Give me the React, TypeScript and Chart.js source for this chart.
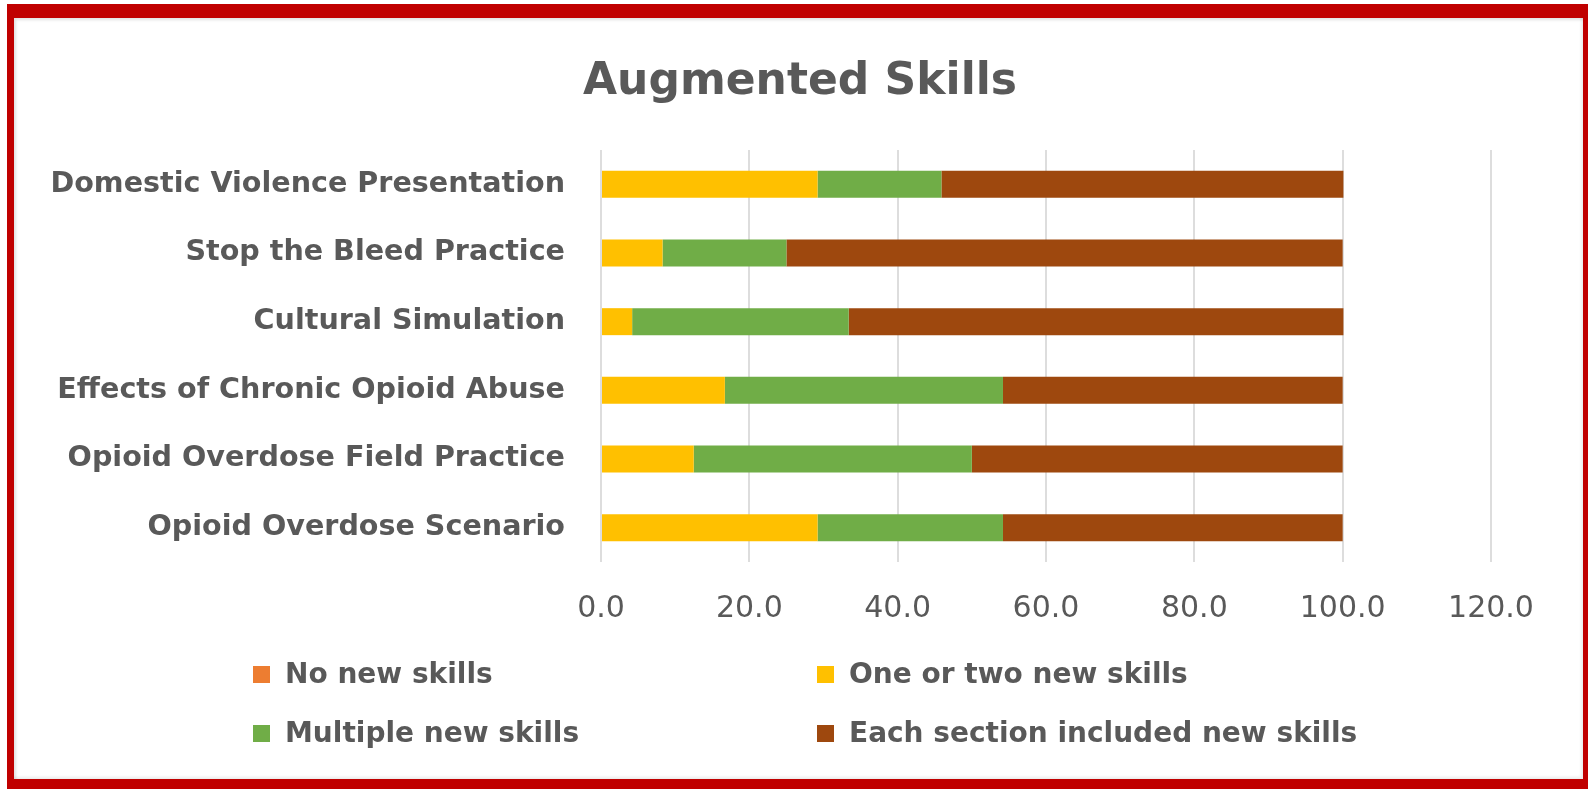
import React, { useEffect, useRef } from "react";
import { Chart, registerables } from "chart.js";

Chart.register(...registerables);

const TITLE = "Augmented Skills";

const categories = [
  "Domestic Violence Presentation",
  "Stop the Bleed Practice",
  "Cultural Simulation",
  "Effects of Chronic Opioid Abuse",
  "Opioid Overdose Field Practice",
  "Opioid Overdose Scenario",
];

const seriesNames = [
  "No new skills",
  "One or two new skills",
  "Multiple new skills",
  "Each section included new skills",
];

const noNewSkills = [0, 0, 0, 0, 0, 0];
const oneOrTwoNewSkills = [29.2, 8.3, 4.2, 16.7, 12.5, 29.2];
const multipleNewSkills = [16.7, 16.7, 29.2, 37.5, 37.5, 25.0];
const eachSectionNewSkills = [54.2, 75.0, 66.7, 45.8, 50.0, 45.8];

const xTickLabels = ["0.0", "20.0", "40.0", "60.0", "80.0", "100.0", "120.0"];

const seriesColors = ["#ED7D31", "#FFC000", "#70AD47", "#9E480E"];

const seriesValues = [noNewSkills, oneOrTwoNewSkills, multipleNewSkills, eachSectionNewSkills];

const FONT = '"DejaVu Sans", sans-serif';
const TEXT = "#595959";

export default function App() {
  const ref = useRef<HTMLCanvasElement>(null);

  useEffect(() => {
    if (!ref.current) return;
    const chart = new Chart(ref.current, {
      type: "bar",
      data: {
        labels: categories,
        datasets: seriesNames.map((name, i) => ({
          label: name,
          data: seriesValues[i],
          backgroundColor: seriesColors[i],
          borderWidth: 0,
          categoryPercentage: 1,
          barPercentage: 0.393,
        })),
      },
      options: {
        indexAxis: "y",
        responsive: false,
        animation: false,
        layout: { padding: { left: 0, right: 98, top: 150, bottom: 0 } },
        plugins: {
          legend: { display: false },
          title: { display: false },
          tooltip: { enabled: false },
        },
        scales: {
          x: {
            stacked: true,
            min: 0,
            max: 120,
            ticks: {
              stepSize: 20,
              padding: 29,
              color: TEXT,
              font: { family: FONT, size: 30 },
              maxRotation: 0,
              callback: (_v: any, i: number) => xTickLabels[i],
            },
            grid: { color: "#DDDDDD", lineWidth: 2, drawTicks: false },
            border: { display: false },
            afterFit: (s: any) => {
              s.height = 227;
            },
          },
          y: {
            stacked: true,
            ticks: {
              padding: 36,
              color: TEXT,
              font: { family: FONT, size: 28.6, weight: "bold" },
            },
            grid: { display: false, drawTicks: false },
            border: { display: false },
            afterFit: (s: any) => {
              s.width = 601;
            },
          },
        },
      } as any,
    });
    return () => chart.destroy();
  }, []);

  const legendCols = [253, 817];
  const legendRows = [674, 733];

  return (
    <div
      style={{
        position: "fixed",
        left: 0,
        top: 0,
        width: 1589,
        height: 789,
        overflow: "hidden",
        background: "#ffffff",
        fontFamily: FONT,
      }}
    >
      <canvas
        ref={ref}
        width={1589}
        height={789}
        style={{ position: "absolute", left: 0, top: 0, width: 1589, height: 789 }}
      />
      <div
        style={{
          position: "absolute",
          left: 0,
          top: 57,
          width: 1600,
          textAlign: "center",
          fontSize: 44,
          lineHeight: "44px",
          fontWeight: "bold",
          color: TEXT,
          whiteSpace: "nowrap",
        }}
      >
        {TITLE}
      </div>
      {seriesNames.map((name, i) => {
        const col = i % 2;
        const row = Math.floor(i / 2);
        return (
          <div
            key={name}
            style={{
              position: "absolute",
              left: legendCols[col],
              top: legendRows[row] - 14,
              height: 28,
              display: "flex",
              alignItems: "center",
              whiteSpace: "nowrap",
            }}
          >
            <div style={{ width: 17, height: 17, background: seriesColors[i], marginRight: 15 }} />
            <span style={{ fontSize: 28, lineHeight: "28px", fontWeight: "bold", color: TEXT }}>{name}</span>
          </div>
        );
      })}
      <div
        style={{
          position: "absolute",
          left: 7,
          top: 4,
          width: 1581,
          height: 785,
          boxSizing: "border-box",
          borderStyle: "solid",
          borderColor: "#C00000",
          borderWidth: "14px 5px 10px 7px",
          boxShadow: "inset 2px 2px 3px rgba(0,0,0,0.12), inset -2px -2px 3px rgba(0,0,0,0.08)",
          pointerEvents: "none",
        }}
      />
    </div>
  );
}
